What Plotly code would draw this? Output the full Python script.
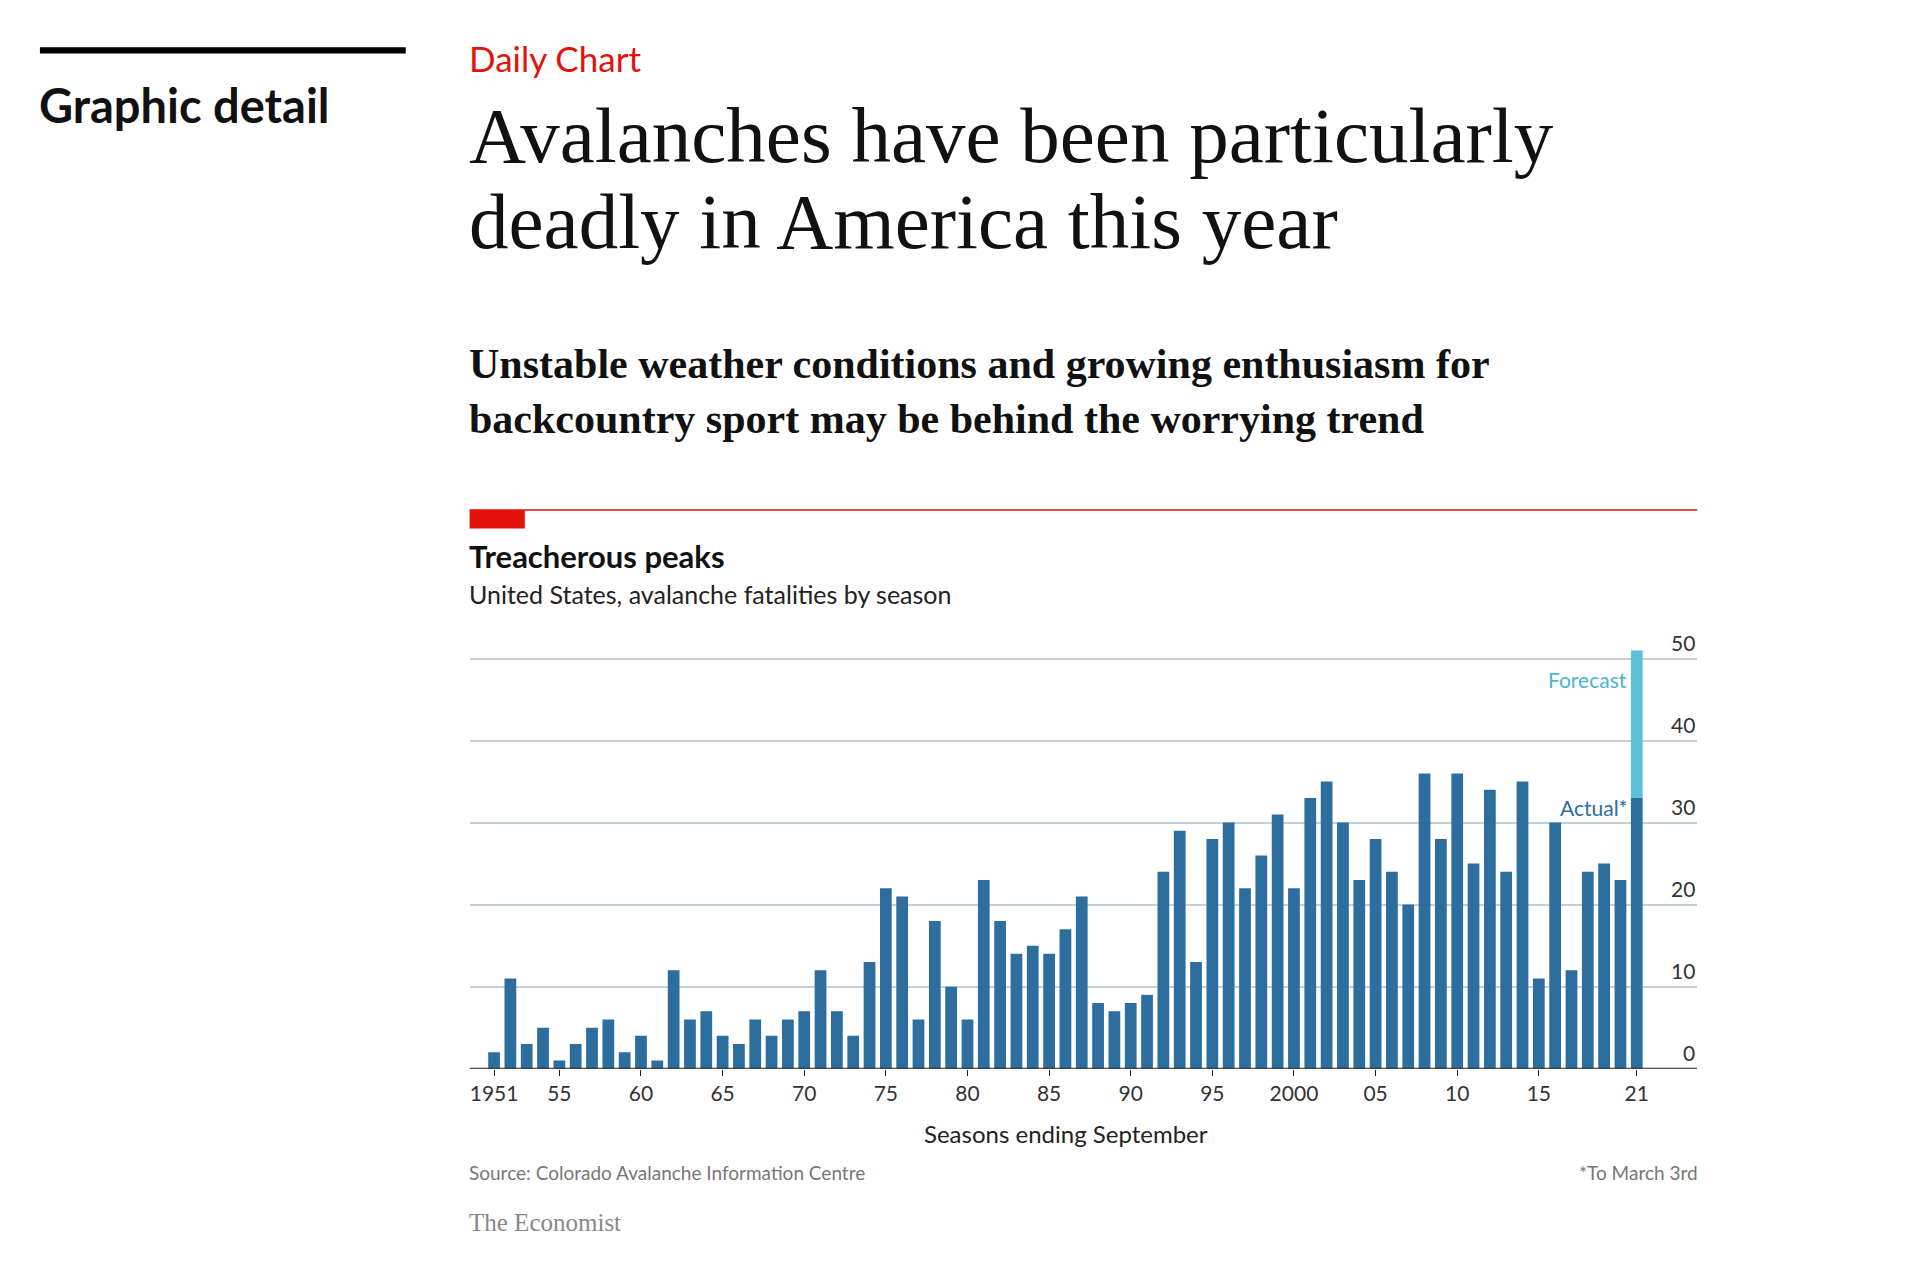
import plotly.graph_objects as go

years = list(range(1951, 2022))
fatalities = [2, 11, 3, 5, 1, 3, 5, 6, 2, 4,
              1, 12, 6, 7, 4, 3, 6, 4, 6, 7,
              12, 7, 4, 13, 22, 21, 6, 18, 10, 6,
              23, 18, 14, 15, 14, 17, 21, 8, 7, 8,
              9, 24, 29, 13, 28, 30, 22, 26, 31, 22,
              33, 35, 30, 23, 28, 24, 20, 36, 28, 36,
              25, 34, 24, 35, 11, 30, 12, 24, 25, 23,
              33]
forecast_year = [2021]
forecast_extra = [18]  # forecast total 51, on top of 33 actual
tick_years = [1951, 1955, 1960, 1965, 1970, 1975, 1980, 1985, 1990, 1995,
              2000, 2005, 2010, 2015, 2021]
tick_text = ["1951", "55", "60", "65", "70", "75", "80", "85", "90", "95",
             "2000", "05", "10", "15", "21"]
y_ticks = [0, 10, 20, 30, 40, 50]

W, H = 1924, 1286
S = 1.2276  # reference was read from a preview scaled down
SANS = "Lato"
SERIF = "Liberation Serif"

def px(x):
    return (x - 6) * S / W

def py(y):
    return 1 - (y - 6) * S / H

fig = go.Figure()
fig.add_trace(go.Bar(x=years, y=fatalities, marker_color="#2e6e9e",
                     marker_line_width=0, width=0.72, hoverinfo="none"))
fig.add_trace(go.Bar(x=forecast_year, y=forecast_extra, base=[fatalities[-1]],
                     marker_color="#5bc0d8", marker_line_width=0, width=0.72,
                     hoverinfo="none"))

fig.update_layout(
    width=W, height=H, margin=dict(l=0, r=0, t=0, b=0),
    paper_bgcolor="white", plot_bgcolor="white",
    showlegend=False, barmode="overlay",
    xaxis=dict(domain=[px(382), px(1382)], range=[1949.5, 2024.7],
               tickvals=tick_years, ticktext=tick_text, ticks="outside",
               ticklen=6, tickcolor="#222", showgrid=False, zeroline=False,
               showline=False,
               tickfont=dict(family=SANS, size=21, color="#333")),
    yaxis=dict(domain=[py(870), py(536 - 2 * 6.7)], range=[0, 52], tickvals=y_ticks,
               showticklabels=False, showgrid=True, gridcolor="#c3d0da",
               gridwidth=2, zeroline=False),
)

# baseline
fig.add_shape(type="line", xref="x", yref="y", x0=1949.5, x1=2024.7, y0=0, y1=0,
              line=dict(color="#222", width=2))

for v in y_ticks:
    fig.add_annotation(x=2024.7, y=v, xref="x", yref="y", text=str(v),
                       xanchor="right", yanchor="bottom", showarrow=False, yshift=2,
                       font=dict(family=SANS, size=21, color="#333"))

fig.add_annotation(x=2020.5, y=47.5, xref="x", yref="y", text="Forecast",
                   xanchor="right", showarrow=False,
                   font=dict(family=SANS, size=21, color="#4fb3cc"))
fig.add_annotation(x=2020.6, y=31.8, xref="x", yref="y", text="Actual*",
                   xanchor="right", showarrow=False,
                   font=dict(family=SANS, size=21, color="#2e6e9e"))

# header decorations
fig.add_shape(type="rect", xref="paper", yref="paper", x0=px(32), x1=px(330),
              y0=py(43), y1=py(38), fillcolor="black", line_width=0)
fig.add_shape(type="line", xref="paper", yref="paper", x0=px(382), x1=px(1382),
              y0=py(415), y1=py(415), line=dict(color="#e3120b", width=1.5))
fig.add_shape(type="rect", xref="paper", yref="paper", x0=px(382), x1=px(427),
              y0=py(430), y1=py(415), fillcolor="#e3120b", line_width=0)

def txt(x, y, s, size, color="#111", family=SANS, anchor="left"):
    fig.add_annotation(x=px(x), y=py(y), xref="paper", yref="paper", text=s,
                       xanchor=anchor, yanchor="middle", showarrow=False,
                       font=dict(family=family, size=size, color=color))

txt(30, 85, "<b>Graphic detail</b>", 47)
txt(380, 47, "Daily Chart", 35)
fig.layout.annotations[-1].font.color = "#e3120b"
txt(380, 110, "Avalanches have been particularly", 79, "#111", SERIF)
txt(380, 180, "deadly in America this year", 79, "#111", SERIF)
txt(380, 296, "<b>Unstable weather conditions and growing enthusiasm for</b>", 42, "#111", SERIF)
txt(380, 341, "<b>backcountry sport may be behind the worrying trend</b>", 42, "#111", SERIF)
txt(380, 452, "<b>Treacherous peaks</b>", 31)
txt(380, 483, "United States, avalanche fatalities by season", 25, "#222")
txt(868, 923, "Seasons ending September", 24, "#222", SANS, "center")
txt(380, 955, "Source: Colorado Avalanche Information Centre", 19, "#777")
txt(1384, 955, "*To March 3rd", 19, "#777", SANS, "right")
txt(380, 995, "The Economist", 25, "#888", SERIF)

fig.write_html("out.html")
